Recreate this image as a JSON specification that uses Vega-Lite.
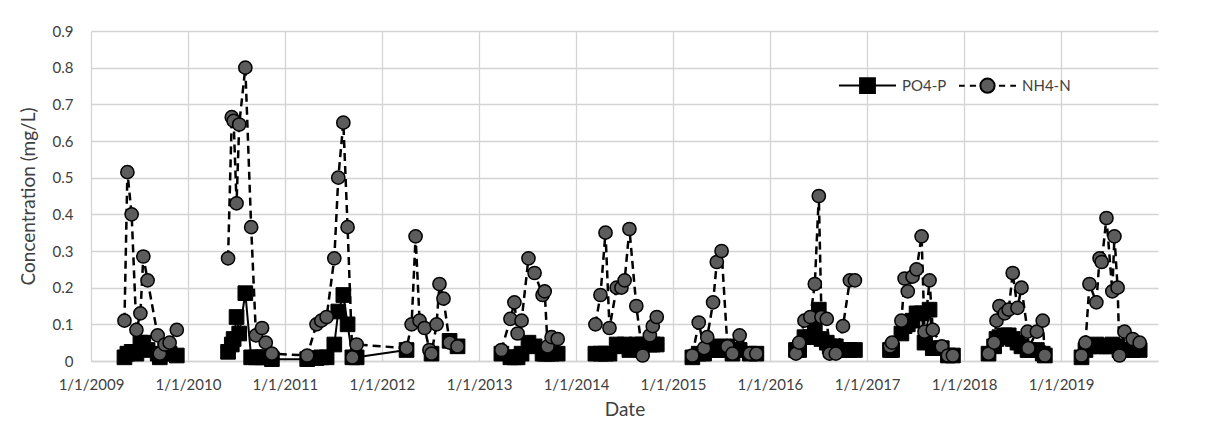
{
  "$schema": "https://vega.github.io/schema/vega-lite/v6.json",
  "width": 1067,
  "height": 330,
  "autosize": "none",
  "padding": {"left": 91, "top": 31, "right": 48, "bottom": 64},
  "background": "white",
  "config": {
    "view": {"stroke": null},
    "font": "Lato",
    "axis": {
      "labelFont": "Lato",
      "titleFont": "Lato",
      "labelFontSize": 15,
      "titleFontSize": 19,
      "labelColor": "#404040",
      "titleColor": "#404040",
      "titleFontWeight": "normal",
      "gridColor": "#d4d4d4",
      "gridWidth": 1.3,
      "ticks": false
    }
  },
  "data": {
    "values": [
      {"campaign": "2009", "date": "2009-05-07", "PO4-P": 0.01, "NH4-N": 0.11},
      {"campaign": "2009", "date": "2009-05-18", "PO4-P": 0.02, "NH4-N": 0.515},
      {"campaign": "2009", "date": "2009-06-03", "PO4-P": 0.025, "NH4-N": 0.40},
      {"campaign": "2009", "date": "2009-06-21", "PO4-P": 0.02, "NH4-N": 0.085},
      {"campaign": "2009", "date": "2009-07-06", "PO4-P": 0.05, "NH4-N": 0.13},
      {"campaign": "2009", "date": "2009-07-17", "PO4-P": 0.05, "NH4-N": 0.285},
      {"campaign": "2009", "date": "2009-08-02", "PO4-P": 0.03, "NH4-N": 0.22},
      {"campaign": "2009", "date": "2009-09-09", "PO4-P": 0.02, "NH4-N": 0.07},
      {"campaign": "2009", "date": "2009-09-17", "PO4-P": 0.01, "NH4-N": 0.02},
      {"campaign": "2009", "date": "2009-10-06", "PO4-P": 0.02, "NH4-N": 0.045},
      {"campaign": "2009", "date": "2009-10-24", "PO4-P": 0.02, "NH4-N": 0.05},
      {"campaign": "2009", "date": "2009-11-20", "PO4-P": 0.015, "NH4-N": 0.085},
      {"campaign": "2010-2012", "date": "2010-06-01", "PO4-P": 0.025, "NH4-N": 0.28},
      {"campaign": "2010-2012", "date": "2010-06-15", "PO4-P": 0.045, "NH4-N": 0.665},
      {"campaign": "2010-2012", "date": "2010-06-22", "PO4-P": 0.06, "NH4-N": 0.655},
      {"campaign": "2010-2012", "date": "2010-07-03", "PO4-P": 0.12, "NH4-N": 0.43},
      {"campaign": "2010-2012", "date": "2010-07-13", "PO4-P": 0.075, "NH4-N": 0.645},
      {"campaign": "2010-2012", "date": "2010-08-05", "PO4-P": 0.185, "NH4-N": 0.80},
      {"campaign": "2010-2012", "date": "2010-08-27", "PO4-P": 0.01, "NH4-N": 0.365},
      {"campaign": "2010-2012", "date": "2010-09-14", "PO4-P": 0.01, "NH4-N": 0.07},
      {"campaign": "2010-2012", "date": "2010-10-07", "PO4-P": 0.01, "NH4-N": 0.09},
      {"campaign": "2010-2012", "date": "2010-10-21", "PO4-P": 0.01, "NH4-N": 0.05},
      {"campaign": "2010-2012", "date": "2010-11-13", "PO4-P": 0.005, "NH4-N": 0.02},
      {"campaign": "2010-2012", "date": "2011-03-26", "PO4-P": 0.005, "NH4-N": 0.015},
      {"campaign": "2010-2012", "date": "2011-04-30", "PO4-P": 0.008, "NH4-N": 0.10},
      {"campaign": "2010-2012", "date": "2011-05-18", "PO4-P": 0.01, "NH4-N": 0.11},
      {"campaign": "2010-2012", "date": "2011-06-07", "PO4-P": 0.01, "NH4-N": 0.12},
      {"campaign": "2010-2012", "date": "2011-07-06", "PO4-P": 0.045, "NH4-N": 0.28},
      {"campaign": "2010-2012", "date": "2011-07-21", "PO4-P": 0.135, "NH4-N": 0.50},
      {"campaign": "2010-2012", "date": "2011-08-09", "PO4-P": 0.18, "NH4-N": 0.65},
      {"campaign": "2010-2012", "date": "2011-08-25", "PO4-P": 0.10, "NH4-N": 0.365},
      {"campaign": "2010-2012", "date": "2011-09-12", "PO4-P": 0.01, "NH4-N": 0.01},
      {"campaign": "2010-2012", "date": "2011-09-28", "PO4-P": 0.01, "NH4-N": 0.045},
      {"campaign": "2010-2012", "date": "2012-04-03", "PO4-P": 0.03, "NH4-N": 0.035},
      {"campaign": "2010-2012", "date": "2012-04-22", "PO4-P": null, "NH4-N": 0.10},
      {"campaign": "2010-2012", "date": "2012-05-07", "PO4-P": null, "NH4-N": 0.34},
      {"campaign": "2010-2012", "date": "2012-05-22", "PO4-P": null, "NH4-N": 0.11},
      {"campaign": "2010-2012", "date": "2012-06-10", "PO4-P": null, "NH4-N": 0.09},
      {"campaign": "2010-2012", "date": "2012-06-28", "PO4-P": null, "NH4-N": 0.03},
      {"campaign": "2010-2012", "date": "2012-07-06", "PO4-P": 0.02, "NH4-N": 0.02},
      {"campaign": "2010-2012", "date": "2012-07-25", "PO4-P": null, "NH4-N": 0.10},
      {"campaign": "2010-2012", "date": "2012-08-05", "PO4-P": null, "NH4-N": 0.21},
      {"campaign": "2010-2012", "date": "2012-08-20", "PO4-P": null, "NH4-N": 0.17},
      {"campaign": "2010-2012", "date": "2012-09-12", "PO4-P": 0.055, "NH4-N": 0.05},
      {"campaign": "2010-2012", "date": "2012-10-12", "PO4-P": 0.04, "NH4-N": 0.04},
      {"campaign": "2013", "date": "2013-03-26", "PO4-P": 0.02, "NH4-N": 0.03},
      {"campaign": "2013", "date": "2013-04-29", "PO4-P": 0.01, "NH4-N": 0.115},
      {"campaign": "2013", "date": "2013-05-14", "PO4-P": 0.01, "NH4-N": 0.16},
      {"campaign": "2013", "date": "2013-05-26", "PO4-P": 0.01, "NH4-N": 0.075},
      {"campaign": "2013", "date": "2013-06-10", "PO4-P": 0.02, "NH4-N": 0.11},
      {"campaign": "2013", "date": "2013-07-06", "PO4-P": 0.05, "NH4-N": 0.28},
      {"campaign": "2013", "date": "2013-07-29", "PO4-P": 0.04, "NH4-N": 0.24},
      {"campaign": "2013", "date": "2013-08-28", "PO4-P": 0.02, "NH4-N": 0.18},
      {"campaign": "2013", "date": "2013-09-05", "PO4-P": 0.02, "NH4-N": 0.19},
      {"campaign": "2013", "date": "2013-09-16", "PO4-P": 0.02, "NH4-N": 0.04},
      {"campaign": "2013", "date": "2013-10-01", "PO4-P": 0.02, "NH4-N": 0.065},
      {"campaign": "2013", "date": "2013-10-24", "PO4-P": 0.02, "NH4-N": 0.06},
      {"campaign": "2014", "date": "2014-03-15", "PO4-P": 0.02, "NH4-N": 0.10},
      {"campaign": "2014", "date": "2014-04-03", "PO4-P": 0.02, "NH4-N": 0.18},
      {"campaign": "2014", "date": "2014-04-22", "PO4-P": 0.02, "NH4-N": 0.35},
      {"campaign": "2014", "date": "2014-05-07", "PO4-P": 0.02, "NH4-N": 0.09},
      {"campaign": "2014", "date": "2014-06-03", "PO4-P": 0.045, "NH4-N": 0.20},
      {"campaign": "2014", "date": "2014-06-21", "PO4-P": 0.04, "NH4-N": 0.20},
      {"campaign": "2014", "date": "2014-07-03", "PO4-P": 0.045, "NH4-N": 0.22},
      {"campaign": "2014", "date": "2014-07-21", "PO4-P": 0.03, "NH4-N": 0.36},
      {"campaign": "2014", "date": "2014-08-16", "PO4-P": 0.045, "NH4-N": 0.15},
      {"campaign": "2014", "date": "2014-09-09", "PO4-P": 0.045, "NH4-N": 0.015},
      {"campaign": "2014", "date": "2014-10-06", "PO4-P": 0.045, "NH4-N": 0.07},
      {"campaign": "2014", "date": "2014-10-17", "PO4-P": 0.045, "NH4-N": 0.095},
      {"campaign": "2014", "date": "2014-11-01", "PO4-P": 0.045, "NH4-N": 0.12},
      {"campaign": "2015", "date": "2015-03-15", "PO4-P": 0.01, "NH4-N": 0.015},
      {"campaign": "2015", "date": "2015-04-08", "PO4-P": 0.02, "NH4-N": 0.105},
      {"campaign": "2015", "date": "2015-04-28", "PO4-P": 0.02, "NH4-N": 0.035},
      {"campaign": "2015", "date": "2015-05-10", "PO4-P": 0.03, "NH4-N": 0.065},
      {"campaign": "2015", "date": "2015-06-01", "PO4-P": 0.04, "NH4-N": 0.16},
      {"campaign": "2015", "date": "2015-06-15", "PO4-P": 0.03, "NH4-N": 0.27},
      {"campaign": "2015", "date": "2015-07-03", "PO4-P": 0.03, "NH4-N": 0.30},
      {"campaign": "2015", "date": "2015-07-25", "PO4-P": 0.04, "NH4-N": 0.04},
      {"campaign": "2015", "date": "2015-08-13", "PO4-P": 0.02, "NH4-N": 0.02},
      {"campaign": "2015", "date": "2015-09-09", "PO4-P": 0.03, "NH4-N": 0.07},
      {"campaign": "2015", "date": "2015-10-17", "PO4-P": 0.02, "NH4-N": 0.02},
      {"campaign": "2015", "date": "2015-11-11", "PO4-P": 0.02, "NH4-N": 0.02},
      {"campaign": "2016", "date": "2016-04-08", "PO4-P": 0.03, "NH4-N": 0.02},
      {"campaign": "2016", "date": "2016-04-20", "PO4-P": 0.03, "NH4-N": 0.05},
      {"campaign": "2016", "date": "2016-05-10", "PO4-P": 0.065, "NH4-N": 0.11},
      {"campaign": "2016", "date": "2016-06-01", "PO4-P": 0.065, "NH4-N": 0.12},
      {"campaign": "2016", "date": "2016-06-18", "PO4-P": 0.10, "NH4-N": 0.21},
      {"campaign": "2016", "date": "2016-07-03", "PO4-P": 0.14, "NH4-N": 0.45},
      {"campaign": "2016", "date": "2016-07-13", "PO4-P": 0.06, "NH4-N": 0.12},
      {"campaign": "2016", "date": "2016-08-02", "PO4-P": 0.05, "NH4-N": 0.115},
      {"campaign": "2016", "date": "2016-08-13", "PO4-P": 0.04, "NH4-N": 0.02},
      {"campaign": "2016", "date": "2016-09-05", "PO4-P": 0.04, "NH4-N": 0.02},
      {"campaign": "2016", "date": "2016-10-02", "PO4-P": 0.03, "NH4-N": 0.095},
      {"campaign": "2016", "date": "2016-10-28", "PO4-P": 0.03, "NH4-N": 0.22},
      {"campaign": "2016", "date": "2016-11-16", "PO4-P": 0.03, "NH4-N": 0.22},
      {"campaign": "2017", "date": "2017-03-28", "PO4-P": 0.03, "NH4-N": 0.04},
      {"campaign": "2017", "date": "2017-04-05", "PO4-P": 0.03, "NH4-N": 0.05},
      {"campaign": "2017", "date": "2017-05-10", "PO4-P": 0.075, "NH4-N": 0.11},
      {"campaign": "2017", "date": "2017-05-22", "PO4-P": 0.095, "NH4-N": 0.225},
      {"campaign": "2017", "date": "2017-06-03", "PO4-P": 0.10, "NH4-N": 0.19},
      {"campaign": "2017", "date": "2017-06-21", "PO4-P": 0.11, "NH4-N": 0.23},
      {"campaign": "2017", "date": "2017-07-06", "PO4-P": 0.13, "NH4-N": 0.25},
      {"campaign": "2017", "date": "2017-07-25", "PO4-P": 0.13, "NH4-N": 0.34},
      {"campaign": "2017", "date": "2017-08-05", "PO4-P": 0.05, "NH4-N": 0.08},
      {"campaign": "2017", "date": "2017-08-24", "PO4-P": 0.14, "NH4-N": 0.22},
      {"campaign": "2017", "date": "2017-09-05", "PO4-P": 0.035, "NH4-N": 0.085},
      {"campaign": "2017", "date": "2017-10-09", "PO4-P": 0.035, "NH4-N": 0.04},
      {"campaign": "2017", "date": "2017-11-01", "PO4-P": 0.015, "NH4-N": 0.015},
      {"campaign": "2017", "date": "2017-11-20", "PO4-P": 0.015, "NH4-N": 0.015},
      {"campaign": "2018", "date": "2018-04-03", "PO4-P": 0.02, "NH4-N": 0.02},
      {"campaign": "2018", "date": "2018-04-24", "PO4-P": 0.04, "NH4-N": 0.05},
      {"campaign": "2018", "date": "2018-05-03", "PO4-P": 0.06, "NH4-N": 0.11},
      {"campaign": "2018", "date": "2018-05-14", "PO4-P": 0.065, "NH4-N": 0.15},
      {"campaign": "2018", "date": "2018-06-03", "PO4-P": 0.07, "NH4-N": 0.13},
      {"campaign": "2018", "date": "2018-06-18", "PO4-P": 0.07, "NH4-N": 0.14},
      {"campaign": "2018", "date": "2018-07-03", "PO4-P": 0.06, "NH4-N": 0.24},
      {"campaign": "2018", "date": "2018-07-21", "PO4-P": 0.05, "NH4-N": 0.145},
      {"campaign": "2018", "date": "2018-08-05", "PO4-P": 0.04, "NH4-N": 0.20},
      {"campaign": "2018", "date": "2018-08-28", "PO4-P": 0.03, "NH4-N": 0.08},
      {"campaign": "2018", "date": "2018-08-31", "PO4-P": 0.03, "NH4-N": 0.035},
      {"campaign": "2018", "date": "2018-10-02", "PO4-P": 0.03, "NH4-N": 0.08},
      {"campaign": "2018", "date": "2018-10-24", "PO4-P": 0.02, "NH4-N": 0.11},
      {"campaign": "2018", "date": "2018-11-01", "PO4-P": 0.015, "NH4-N": 0.015},
      {"campaign": "2019", "date": "2019-03-19", "PO4-P": 0.01, "NH4-N": 0.015},
      {"campaign": "2019", "date": "2019-04-03", "PO4-P": 0.03, "NH4-N": 0.05},
      {"campaign": "2019", "date": "2019-04-18", "PO4-P": 0.04, "NH4-N": 0.21},
      {"campaign": "2019", "date": "2019-05-14", "PO4-P": 0.045, "NH4-N": 0.16},
      {"campaign": "2019", "date": "2019-05-26", "PO4-P": 0.04, "NH4-N": 0.28},
      {"campaign": "2019", "date": "2019-06-03", "PO4-P": 0.04, "NH4-N": 0.27},
      {"campaign": "2019", "date": "2019-06-21", "PO4-P": 0.04, "NH4-N": 0.39},
      {"campaign": "2019", "date": "2019-07-13", "PO4-P": 0.045, "NH4-N": 0.19},
      {"campaign": "2019", "date": "2019-07-21", "PO4-P": 0.04, "NH4-N": 0.34},
      {"campaign": "2019", "date": "2019-08-02", "PO4-P": 0.04, "NH4-N": 0.20},
      {"campaign": "2019", "date": "2019-08-09", "PO4-P": 0.03, "NH4-N": 0.015},
      {"campaign": "2019", "date": "2019-08-28", "PO4-P": 0.03, "NH4-N": 0.08},
      {"campaign": "2019", "date": "2019-09-28", "PO4-P": 0.03, "NH4-N": 0.06},
      {"campaign": "2019", "date": "2019-10-24", "PO4-P": 0.03, "NH4-N": 0.05}
    ]
  },
  "transform": [{"fold": ["PO4-P", "NH4-N"], "as": ["series", "value"]}],
  "encoding": {
    "x": {
      "field": "date",
      "type": "temporal",
      "scale": {
        "type": "utc",
        "domain": [
          {"year": 2009, "month": 1, "date": 1, "utc": true},
          {"year": 2020, "month": 1, "date": 1, "utc": true}
        ]
      },
      "axis": {
        "title": "Date",
        "values": [
          {"year": 2009, "month": 1, "date": 1, "utc": true},
          {"year": 2010, "month": 1, "date": 1, "utc": true},
          {"year": 2011, "month": 1, "date": 1, "utc": true},
          {"year": 2012, "month": 1, "date": 1, "utc": true},
          {"year": 2013, "month": 1, "date": 1, "utc": true},
          {"year": 2014, "month": 1, "date": 1, "utc": true},
          {"year": 2015, "month": 1, "date": 1, "utc": true},
          {"year": 2016, "month": 1, "date": 1, "utc": true},
          {"year": 2017, "month": 1, "date": 1, "utc": true},
          {"year": 2018, "month": 1, "date": 1, "utc": true},
          {"year": 2019, "month": 1, "date": 1, "utc": true}
        ],
        "labelExpr": "utcFormat(datum.value, '%-m/%-d/%Y')",
        "labelPadding": 16,
        "titlePadding": 8,
        "domainColor": "#d4d4d4",
        "domainWidth": 1.3,
        "labelFlush": false,
        "labelOverlap": false
      }
    },
    "y": {
      "field": "value",
      "type": "quantitative",
      "scale": {"domain": [0, 0.9], "nice": false},
      "axis": {
        "title": "Concentration (mg/L)",
        "values": [0, 0.1, 0.2, 0.3, 0.4, 0.5, 0.6, 0.7, 0.8, 0.9],
        "format": ".1~f",
        "labelPadding": 18,
        "titlePadding": 14,
        "domain": false
      }
    }
  },
  "layer": [
    {
      "transform": [{"filter": "datum.series === 'PO4-P'"}],
      "mark": {"type": "line", "color": "black", "strokeWidth": 2},
      "encoding": {"detail": {"field": "campaign", "type": "nominal"}}
    },
    {
      "transform": [{"filter": "datum.series === 'PO4-P'"}],
      "mark": {"type": "point", "shape": "square", "filled": true, "fill": "#000000", "stroke": "black", "strokeWidth": 1, "size": 215, "opacity": 1}
    },
    {
      "transform": [{"filter": "datum.series === 'NH4-N'"}],
      "mark": {"type": "line", "color": "black", "strokeWidth": 2.5, "strokeDash": [8, 5]},
      "encoding": {"detail": {"field": "campaign", "type": "nominal"}}
    },
    {
      "transform": [{"filter": "datum.series === 'NH4-N'"}],
      "mark": {"type": "point", "shape": "circle", "filled": true, "fill": "#5c5c5c", "stroke": "black", "strokeWidth": 1.5, "size": 175, "opacity": 1}
    },
    {
      "transform": [{"filter": "false"}],
      "mark": {"type": "point", "filled": true, "opacity": 1},
      "encoding": {
        "shape": {
          "field": "series",
          "type": "nominal",
          "scale": {
            "domain": ["PO4-P", "NH4-N"],
            "range": [
              "M-1,0H1M-0.26,-0.26H0.26V0.26H-0.26Z",
              "M-1,0H-0.8M-0.62,0H-0.4M0.4,0H0.62M0.8,0H1M0.25,0A0.25,0.25 0 1,1 -0.25,0A0.25,0.25 0 1,1 0.25,0Z"
            ]
          },
          "legend": {
            "title": null,
            "orient": "none",
            "legendX": 747,
            "legendY": 25,
            "padding": 0,
            "direction": "horizontal",
            "symbolSize": 3249,
            "symbolStrokeColor": "black",
            "symbolStrokeWidth": 2,
            "symbolOpacity": 1,
            "labelFont": "Lato",
            "labelFontSize": 15,
            "labelColor": "#404040",
            "labelOffset": 5,
            "columnPadding": 8,
            "encode": {
              "symbols": {
                "update": {
                  "stroke": {"value": "black"},
                  "strokeWidth": {"value": 2},
                  "opacity": {"value": 1}
                }
              }
            }
          }
        },
        "fill": {
          "field": "series",
          "type": "nominal",
          "scale": {"domain": ["PO4-P", "NH4-N"], "range": ["#000000", "#5c5c5c"]},
          "legend": {
            "title": null,
            "orient": "none",
            "legendX": 747,
            "legendY": 25,
            "padding": 0,
            "direction": "horizontal",
            "symbolSize": 3249,
            "symbolStrokeColor": "black",
            "symbolStrokeWidth": 2,
            "symbolOpacity": 1,
            "labelFont": "Lato",
            "labelFontSize": 15,
            "labelColor": "#404040",
            "labelOffset": 5,
            "columnPadding": 8,
            "encode": {
              "symbols": {
                "update": {
                  "stroke": {"value": "black"},
                  "strokeWidth": {"value": 2},
                  "opacity": {"value": 1}
                }
              }
            }
          }
        }
      }
    }
  ]
}
